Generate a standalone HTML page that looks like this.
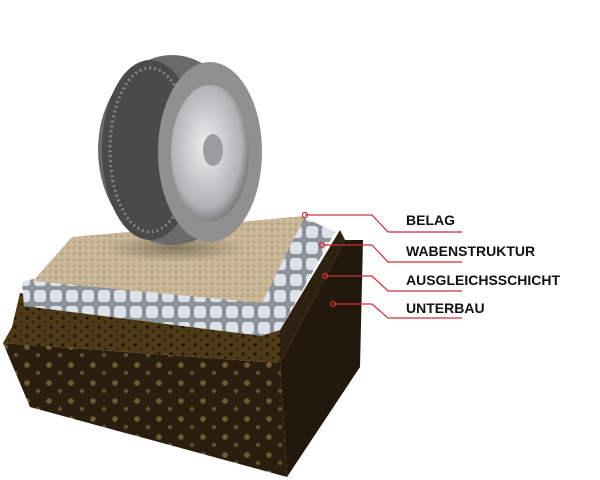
<!DOCTYPE html>
<html><head><style>
html,body{margin:0;padding:0;background:#fff;width:600px;height:480px;overflow:hidden}
</style></head><body>
<svg width="600" height="480" viewBox="0 0 600 480" xmlns="http://www.w3.org/2000/svg">
<defs>
<pattern id="dots" width="22" height="18" patternUnits="userSpaceOnUse">
<rect width="22" height="18" fill="#2a1f0f"/>
<circle cx="5" cy="5" r="2.8" fill="#6e5c35"/><circle cx="16" cy="13" r="2.2" fill="#5e4f2d"/>
</pattern>
<pattern id="dots2" width="12" height="9" patternUnits="userSpaceOnUse">
<rect width="12" height="9" fill="#4e3a17"/>
<circle cx="3" cy="3" r="1.6" fill="#1e1508"/><circle cx="9" cy="7" r="1.2" fill="#2a1d0b"/>
</pattern>
<pattern id="sand" width="6" height="6" patternUnits="userSpaceOnUse">
<rect width="6" height="6" fill="#c7b595"/><circle cx="2" cy="2" r="1" fill="#a99778"/><circle cx="5" cy="4" r="0.8" fill="#ddd0b6"/>
</pattern>
<pattern id="comb" width="16" height="16" patternUnits="userSpaceOnUse">
<rect width="16" height="16" fill="#8d939a"/><rect x="2" y="2" width="12" height="12" rx="3" fill="#dde2e6"/>
</pattern>
<radialGradient id="rim" cx="0.45" cy="0.45" r="0.6"><stop offset="0" stop-color="#eeeeee"/><stop offset="0.75" stop-color="#b0b2b5"/><stop offset="1" stop-color="#6a6a6a"/></radialGradient>
<radialGradient id="shadow" cx="0.5" cy="0.5" r="0.5"><stop offset="0" stop-color="#5a4f3d" stop-opacity="0.6"/><stop offset="1" stop-color="#5a4f3d" stop-opacity="0"/></radialGradient>
</defs>
<!-- unterbau -->
<polygon points="3,343 280,363 287,477 30,407" fill="url(#dots)"/>
<polygon points="280,363 345,240 363,240 360,367 287,477" fill="#22180b"/>
<!-- ausgleich -->
<polygon points="20,293 280,330 280,363 3,343 12,327" fill="url(#dots2)"/>
<polygon points="280,330 340,230 345,240 280,363" fill="#2e2110"/>
<!-- honeycomb -->
<polygon points="22,282 33,279 262,301 262,336 24,306" fill="url(#comb)"/>
<polygon points="260,304 303,217 335,232 280,330 262,336" fill="url(#comb)"/>
<!-- sand -->
<polygon points="33,281 72,237 305,216 262,303" fill="url(#sand)"/>
<ellipse cx="175" cy="248" rx="70" ry="14" fill="url(#shadow)"/>
<!-- tire -->
<ellipse cx="172" cy="150" rx="74" ry="95" fill="#6a6a6a"/>
<ellipse cx="150" cy="150" rx="48" ry="90" fill="#4a4a4a"/>
<ellipse cx="150" cy="150" rx="40" ry="82" fill="none" stroke="#858585" stroke-width="3" stroke-dasharray="2 3"/>
<ellipse cx="210" cy="152" rx="52" ry="90" fill="#909090"/>
<ellipse cx="210" cy="153" rx="39" ry="68" fill="url(#rim)"/>
<ellipse cx="213" cy="150" rx="10" ry="16" fill="#9a9c9f"/>
<!-- leaders -->
<g fill="none" stroke="#c8323a" stroke-width="1.2">
<path d="M305,215 H372 L388,232 H462"/>
<path d="M322,245 H372 L388,262 H462"/>
<path d="M325,276 H372 L388,291 H462"/>
<path d="M333,304 H372 L388,318 H462"/>
</g>
<g fill="none" stroke="#c8323a" stroke-width="1.2"><circle cx="305" cy="215" r="2.5"/><circle cx="322" cy="245" r="2.5"/><circle cx="325" cy="276" r="2.5"/><circle cx="333" cy="304" r="2.5"/></g>
<g font-family="Liberation Sans, sans-serif" font-weight="bold" font-size="14" fill="#111">
<text x="406" y="225">BELAG</text>
<text x="406" y="256">WABENSTRUKTUR</text>
<text x="406" y="285">AUSGLEICHSSCHICHT</text>
<text x="406" y="313">UNTERBAU</text>
</g>
</svg>
</body></html>
